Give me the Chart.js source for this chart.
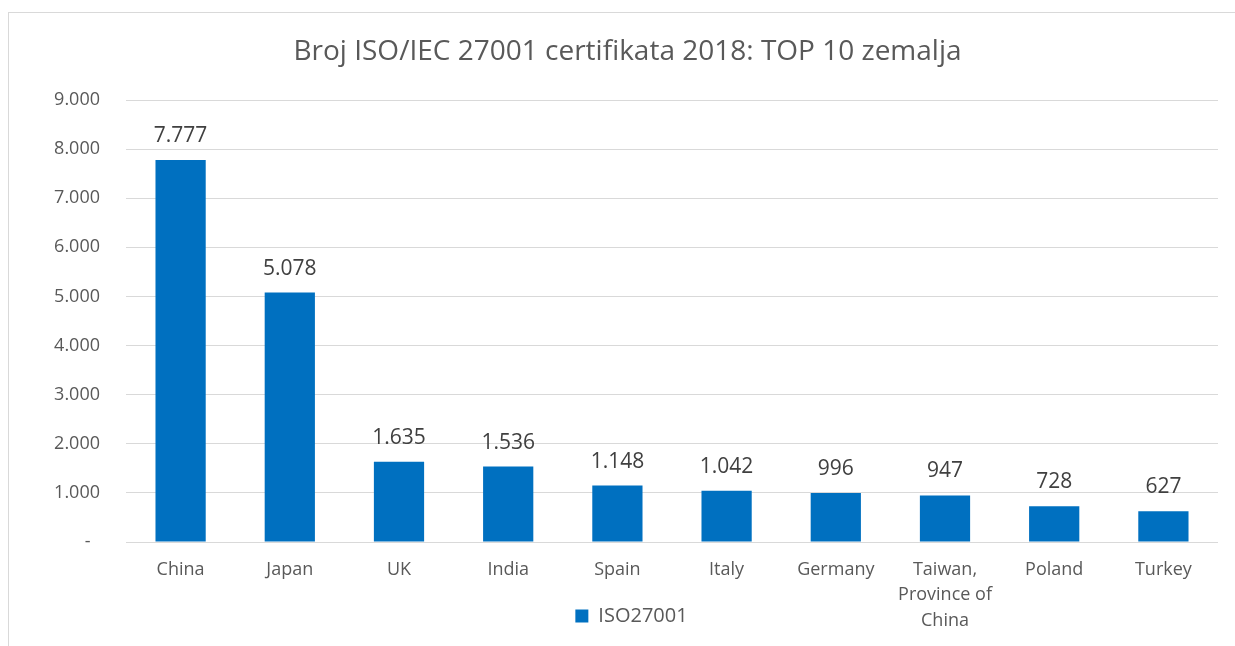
<!DOCTYPE html>
<html>
<head>
<meta charset="utf-8">
<script src="https://cdn.jsdelivr.net/npm/chart.js@4"></script>
<style>
    body { margin: 0; background: #fff; }
    #frame {
        position: absolute; left: 8px; top: 12px;
        width: 1227px; height: 634px;
        border-left: 1px solid #d9d9d9; border-top: 1px solid #d9d9d9;
    }
    canvas { display: block; }
</style>
</head>
<body>
<div id="frame"><canvas id="chart" width="1226" height="633"></canvas></div>
<script>
// Data
const countries = ['China', 'Japan', 'UK', 'India', 'Spain', 'Italy', 'Germany', ['Taiwan,', 'Province of', 'China'], 'Poland', 'Turkey'];
const certificates = [7777, 5078, 1635, 1536, 1148, 1042, 996, 947, 728, 627];
const yTicks = [0, 1000, 2000, 3000, 4000, 5000, 6000, 7000, 8000, 9000];

const FONT = 'Open Sans';

// 1000 -> 1.000
function fmt(v) {
    return String(v).replace(/\B(?=(\d{3})+(?!\d))/g, '.');
}

// Value labels above bars
const barLabels = {
    id: 'barLabels',
    afterDatasetsDraw(chart) {
        const ctx = chart.ctx;
        const meta = chart.getDatasetMeta(0);
        ctx.save();
        ctx.font = '21px "' + FONT + '"';
        ctx.fillStyle = '#404040';
        ctx.textAlign = 'center';
        ctx.textBaseline = 'middle';
        meta.data.forEach((bar, i) => {
            ctx.fillText(fmt(chart.data.datasets[0].data[i]), bar.x, bar.y - 24);
        });
        ctx.restore();
    }
};

// Legend sits inside the bottom label band, next to the 3-line label;
// title is nudged right like in the original
const moveBoxes = {
    id: 'moveBoxes',
    afterLayout(chart) {
        const lg = chart.legend;
        const h = lg.bottom - lg.top;
        lg.top = 583;
        lg.bottom = 583 + h;
        lg.left += 18;
        lg.right += 18;
        if (chart.titleBlock) {
            chart.titleBlock.left += 14;
            chart.titleBlock.right += 14;
        }
    }
};

new Chart(document.getElementById('chart'), {
    type: 'bar',
    data: {
        labels: countries,
        datasets: [{
            label: 'ISO27001',
            data: certificates,
            backgroundColor: '#0070C0',
            barPercentage: 0.46,
            categoryPercentage: 1
        }]
    },
    options: {
        responsive: false,
        animation: false,
        layout: { padding: { left: 0, right: 17, top: 0, bottom: -31 } },
        plugins: {
            title: {
                display: true,
                text: 'Broj ISO/IEC 27001 certifikata 2018: TOP 10 zemalja',
                color: '#595959',
                font: { family: FONT, size: 28, weight: 'normal', lineHeight: 1.2 },
                padding: { top: 22, bottom: 31.4 }
            },
            legend: {
                position: 'bottom',
                labels: {
                    color: '#595959',
                    boxWidth: 13,
                    boxHeight: 13,
                    padding: 10,
                    font: { family: FONT, size: 20 }
                }
            },
            tooltip: { enabled: false }
        },
        scales: {
            x: {
                grid: { display: false, drawTicks: false },
                border: { display: false },
                ticks: {
                    color: '#595959',
                    padding: 15,
                    maxRotation: 0,
                    autoSkip: false,
                    font: { family: FONT, size: 18, lineHeight: 1.42 }
                },
                afterFit(scale) { scale.height = 95; }
            },
            y: {
                min: 0,
                max: 9000,
                afterBuildTicks(scale) { scale.ticks = yTicks.map(v => ({ value: v })); },
                grid: { color: '#d9d9d9', lineWidth: 1, drawTicks: false },
                border: { display: false },
                ticks: {
                    color: '#595959',
                    padding: 26,
                    font: { family: FONT, size: 18 },
                    callback: v => v === 0 ? '-  ' : fmt(v)
                },
                afterFit(scale) { scale.width = 117; }
            }
        }
    },
    plugins: [barLabels, moveBoxes]
});
</script>
</body>
</html>
